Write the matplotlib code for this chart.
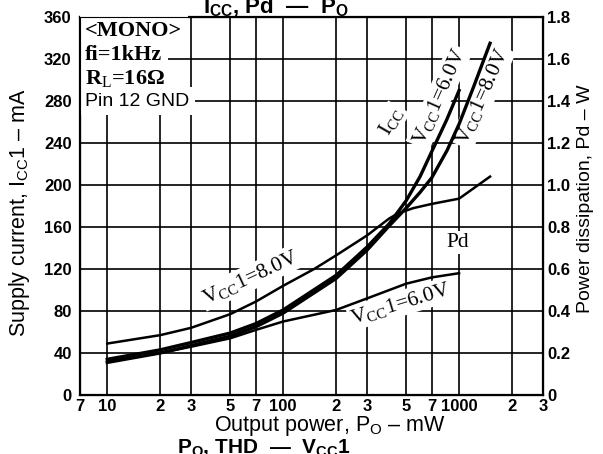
import matplotlib
matplotlib.use("Agg")
import matplotlib.pyplot as plt

plt.rcParams['font.family'] = 'Liberation Sans'
plt.rcParams['mathtext.fontset'] = 'custom'
plt.rcParams['mathtext.rm'] = 'Liberation Serif'
plt.rcParams['mathtext.it'] = 'Liberation Serif:italic'
plt.rcParams['mathtext.sf'] = 'Liberation Sans'
plt.rcParams['mathtext.bf'] = 'Liberation Sans:bold'

# output power, mW
po_icc6 = [10, 20, 30, 50, 70, 100, 200, 300, 400, 500, 600, 700, 850, 1000]
icc6 = [34, 43, 50, 59, 68, 81, 114, 141, 163, 185, 208, 232, 262, 290]
po_icc8 = [10, 20, 30, 50, 70, 100, 200, 300, 400, 500, 600, 700, 855, 1000, 1200, 1500]
icc8 = [31, 40, 47, 56, 65, 78, 111, 138, 161, 178, 193, 207, 233, 258, 292, 335]

po_pd6 = [10, 20, 30, 50, 70, 100, 200, 300, 500, 700, 1000]
pd6 = [0.16, 0.20, 0.23, 0.27, 0.31, 0.35, 0.405, 0.46, 0.53, 0.56, 0.58]
po_pd8 = [10, 20, 30, 50, 70, 100, 150, 200, 300, 400, 450, 550, 700, 1000, 1500]
pd8 = [0.245, 0.285, 0.32, 0.385, 0.445, 0.52, 0.60, 0.665, 0.76, 0.84, 0.865, 0.89, 0.91, 0.935, 1.04]

xticks = [7, 10, 20, 30, 50, 70, 100, 200, 300, 500, 700, 1000, 2000, 3000]
xticklabels = ['7', '10', '2', '3', '5', '7', '100', '2', '3', '5', '7', '1000', '2', '3']
yticks_ma = [0, 40, 80, 120, 160, 200, 240, 280, 320, 360]
yticks_w = [0, 0.2, 0.4, 0.6, 0.8, 1.0, 1.2, 1.4, 1.6, 1.8]
ylabels_w = ['0', '0.2', '0.4', '0.6', '0.8', '1.0', '1.2', '1.4', '1.6', '1.8']

fig = plt.figure(figsize=(6.03, 4.54), dpi=100)
ax = fig.add_axes([80 / 603, 1 - 395 / 454, 463 / 603, 378 / 454])
ax.set_xscale('log')
ax.set_xlim(7, 3000)
ax.set_ylim(0, 360)
ax.set_xticks(xticks)
ax.set_xticklabels(xticklabels)
ax.minorticks_off()
ax.set_yticks(yticks_ma)
ax.set_axisbelow(True)
ax.grid(True, color='black', lw=1.2)
ax.tick_params(axis='x', length=0, labelsize=12, pad=3)
ax.tick_params(axis='y', length=0, labelsize=12, pad=6)
for lab in ax.get_xticklabels() + ax.get_yticklabels():
    lab.set_fontweight('bold')
for s in ax.spines.values():
    s.set_linewidth(1.6)

ax.plot(po_icc8, icc8, color='black', lw=2.4, zorder=4)
ax.plot(po_icc6, icc6, color='black', lw=2.4, zorder=4)

ax2 = ax.twinx()
ax2.set_ylim(0, 1.8)
ax2.set_yticks(yticks_w)
ax2.set_yticklabels(ylabels_w)
ax2.tick_params(length=0, labelsize=12, pad=3)
for lab in ax2.get_yticklabels():
    lab.set_fontweight('bold')
ax2.plot(po_pd8, pd8, color='black', lw=1.8)
ax2.plot(po_pd6, pd6, color='black', lw=1.8)

wb = dict(fc='white', ec='none', pad=1.5)
box = dict(fc='white', ec='none', pad=4)
serif = 'Liberation Serif'

# condition block
ax.text(7.5, 347, '<MONO>', family=serif, weight='bold', fontsize=16,
        va='center', ha='left', bbox=box, zorder=3)
ax.text(7.5, 324, 'fi=1kHz', family=serif, weight='bold', fontsize=16,
        va='center', ha='left', bbox=box, zorder=3)
ax.text(7.5, 301, r'R$_{\mathrm{L}}$=16Ω', family=serif, weight='bold', fontsize=16,
        va='center', ha='left', bbox=box, zorder=3)
ax.text(7.5, 280, 'Pin 12 GND', fontsize=14,
        va='center', ha='left', bbox=box, zorder=3)

# curve labels
ax.text(65, 112, r'V$_{\mathrm{CC}}$1=8.0V', family=serif, fontsize=15.5, rotation=25,
        rotation_mode='anchor', ha='center', va='center', bbox=wb, zorder=3)
ax.text(463, 87, r'V$_{\mathrm{CC}}$1=6.0V', family=serif, fontsize=15.5, rotation=17,
        rotation_mode='anchor', ha='center', va='center', bbox=wb, zorder=3)
ax.text(980, 145, 'Pd', family=serif, fontsize=15.5,
        ha='center', va='center', bbox=wb, zorder=3)
ax.text(410, 261, r'I$_{\mathrm{CC}}$', family=serif, fontsize=15.5, rotation=60,
        rotation_mode='anchor', ha='center', va='center', bbox=wb, zorder=3)
ax.text(770, 284, r'V$_{\mathrm{CC}}$1=6.0V', family=serif, fontsize=15.5, rotation=66,
        rotation_mode='anchor', ha='center', va='center', bbox=wb, zorder=3)
ax.text(1360, 284, r'V$_{\mathrm{CC}}$1=8.0V', family=serif, fontsize=15.5, rotation=66,
        rotation_mode='anchor', ha='center', va='center', bbox=wb, zorder=3)

# axis titles
fig.text(330 / 603, 1 - 431 / 454, r'Output power, P$_{\mathsf{O}}$ – mW', fontsize=15.5,
         ha='center', va='baseline')
fig.text(20 / 603, 1 - 212 / 454, r'Supply current, I$_{\mathsf{CC}}$1 – mA', fontsize=15.5,
         rotation=90, ha='center', va='center')
fig.text(586 / 603, 1 - 199 / 454, 'Power dissipation, Pd – W', fontsize=14,
         rotation=90, ha='center', va='center')

# chart captions
fig.text(276 / 603, 1 - 13 / 454, r'I$_{\mathbf{CC}}$, Pd  —  P$_{\mathbf{O}}$', fontsize=16,
         weight='bold', ha='center', va='baseline')
fig.text(264 / 603, 1 - 453 / 454, r'P$_{\mathbf{O}}$, THD  —  V$_{\mathbf{CC}}$1', fontsize=15,
         weight='bold', ha='center', va='baseline')

fig.savefig('out.png', dpi=100)
